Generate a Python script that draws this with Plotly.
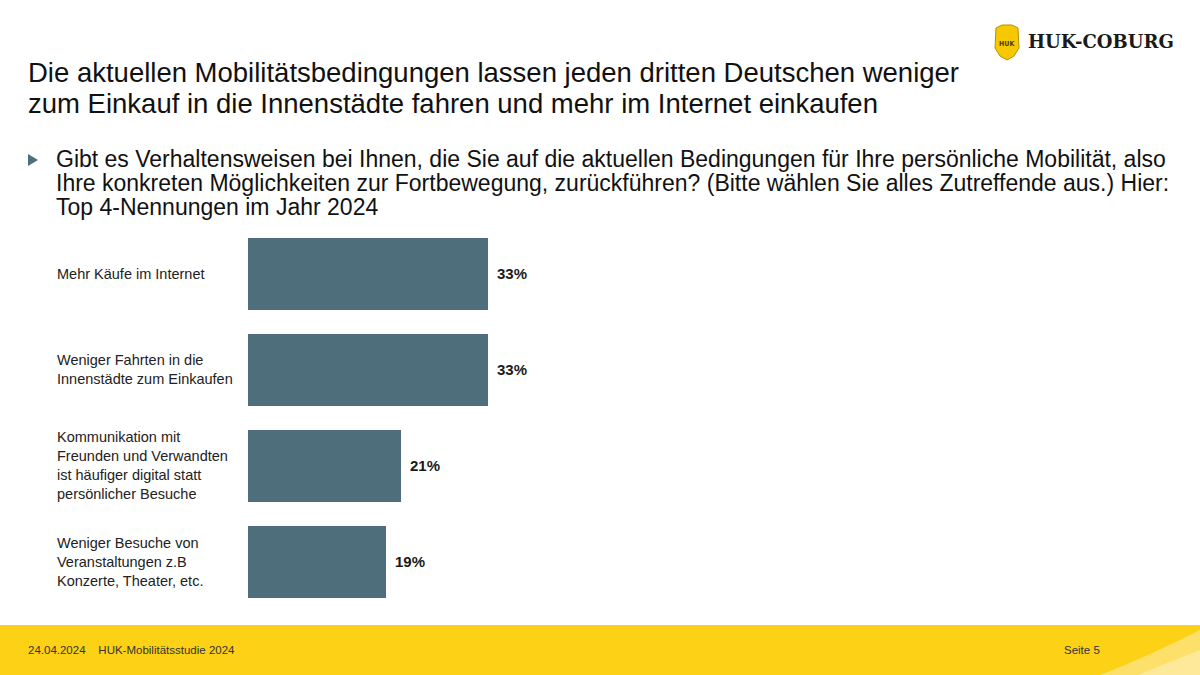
import plotly.graph_objects as go

W, H = 1200, 675

categories = [
    "Mehr Käufe im Internet",
    "Weniger Fahrten in die<br>Innenstädte zum Einkaufen",
    "Kommunikation mit<br>Freunden und Verwandten<br>ist häufiger digital statt<br>persönlicher Besuche",
    "Weniger Besuche von<br>Veranstaltungen z.B<br>Konzerte, Theater, etc.",
]
values = [33, 33, 21, 19]
value_labels = ["33%", "33%", "21%", "19%"]

title_lines = [
    "Die aktuellen Mobilitätsbedingungen lassen jeden dritten Deutschen weniger",
    "zum Einkauf in die Innenstädte fahren und mehr im Internet einkaufen",
]
question_lines = [
    "Gibt es Verhaltensweisen bei Ihnen, die Sie auf die aktuellen Bedingungen für Ihre persönliche Mobilität, also",
    "Ihre konkreten Möglichkeiten zur Fortbewegung, zurückführen? (Bitte wählen Sie alles Zutreffende aus.) Hier:",
    "Top 4-Nennungen im Jahr 2024",
]
footer_left = "24.04.2024    HUK-Mobilitätsstudie 2024"
footer_right = "Seite 5"

BAR = "#4e6e7b"
YELLOW = "#fcd116"
FONT = "Liberation Sans, Arial, sans-serif"


def px(x, y):
    # pixel position -> paper coordinates
    return x / W, 1 - y / H


def text_at(x, y, text, size, color="#111111", family=FONT, anchor="left"):
    fx, fy = px(x, y)
    return dict(
        x=fx, y=fy, xref="paper", yref="paper", xanchor=anchor, yanchor="middle",
        text=text, showarrow=False, align="left",
        font=dict(family=family, size=size, color=color),
    )


ypos = list(range(len(categories)))

fig = go.Figure()
fig.add_trace(
    go.Bar(
        x=values,
        y=ypos,
        orientation="h",
        width=0.76,
        marker=dict(color=BAR, line=dict(width=0)),
        hoverinfo="skip",
    )
)

annotations = []
for i, cat in enumerate(categories):
    annotations.append(
        dict(
            x=55 / W, xref="paper", xanchor="left",
            y=i, yref="y", yanchor="middle",
            text=cat, showarrow=False, align="left",
            font=dict(family=FONT, size=14.5, color="#222222"),
        )
    )
for i, (v, lab) in enumerate(zip(values, value_labels)):
    annotations.append(
        dict(
            x=v, xref="x", xanchor="left", xshift=7,
            y=i, yref="y", yanchor="middle",
            text=f"<b>{lab}</b>", showarrow=False,
            font=dict(family=FONT, size=15, color="#1a1a1a"),
        )
    )

for k, line in enumerate(title_lines):
    annotations.append(text_at(26, 73 + k * 31, line, 27.5))
for k, line in enumerate(question_lines):
    annotations.append(text_at(54, 159 + k * 24, line, 23))

annotations.append(text_at(26, 650, footer_left, 11.5, color="#333333"))
annotations.append(text_at(1062, 650, footer_right, 11.5, color="#333333"))
annotations.append(
    text_at(1026, 42, "<b>HUK-COBURG</b>", 18, color="#1a1a1a",
            family="DejaVu Serif, serif")
)
annotations.append(
    text_at(1007, 44, "<b>HUK</b>", 7, color="#4a3a00",
            family="DejaVu Sans Condensed, sans-serif", anchor="center")
)


def path(points):
    parts = []
    for k, (x, y) in enumerate(points):
        fx, fy = px(x, y)
        parts.append(("M" if k == 0 else "L") + f"{fx:.5f},{fy:.5f}")
    return " ".join(parts) + " Z"


shapes = [
    # footer band
    dict(type="rect", xref="paper", yref="paper",
         x0=0, x1=1, y0=0, y1=1 - 625 / H,
         fillcolor=YELLOW, line=dict(width=0), layer="below"),
    # light swoosh bottom right
    dict(type="path", xref="paper", yref="paper",
         path=path([(1200, 630), (1180, 640), (1150, 654), (1125, 665),
                    (1100, 675), (1200, 675)]),
         fillcolor="#fde06a", line=dict(width=0), layer="below"),
    dict(type="path", xref="paper", yref="paper",
         path=path([(1200, 650), (1175, 660), (1150, 670), (1138, 675),
                    (1200, 675)]),
         fillcolor="#fee99a", line=dict(width=0), layer="below"),
    # bullet triangle
    dict(type="path", xref="paper", yref="paper",
         path=path([(28, 154), (28, 166), (38, 160)]),
         fillcolor=BAR, line=dict(width=0)),
    # logo shield
    dict(type="path", xref="paper", yref="paper",
         path=path([(996, 28), (1002, 25), (1012, 25), (1018, 28),
                    (1019, 48), (1014, 56), (1007, 60), (1000, 56),
                    (995, 48)]),
         fillcolor="#f6c800", line=dict(color="#b89200", width=1)),
]

fig.update_layout(
    width=W,
    height=H,
    margin=dict(l=0, r=0, t=0, b=0),
    paper_bgcolor="white",
    plot_bgcolor="white",
    showlegend=False,
    bargap=0,
    xaxis=dict(
        range=[0, 100],
        domain=[248 / W, (248 + 727) / W],
        visible=False,
        fixedrange=True,
    ),
    yaxis=dict(
        range=[3.5, -0.5],
        domain=[1 - 609.5 / H, 1 - 225.5 / H],
        visible=False,
        fixedrange=True,
    ),
    annotations=annotations,
    shapes=shapes,
)

fig.write_html(
    "out.html",
    config={"displayModeBar": False},
    post_script="document.body.style.margin='0';",
)
